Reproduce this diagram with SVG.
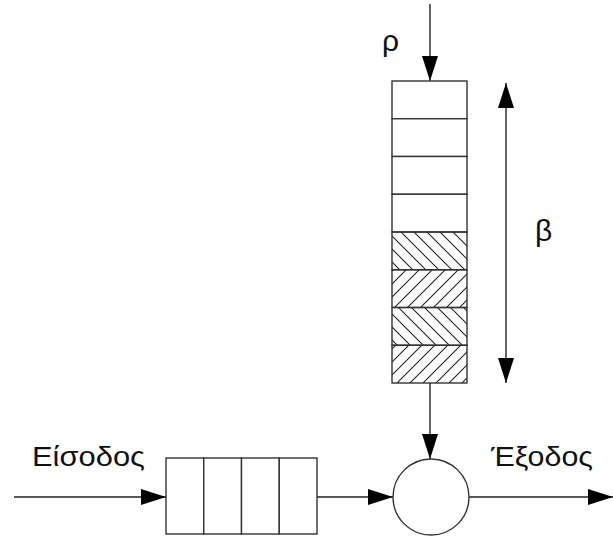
<svg xmlns="http://www.w3.org/2000/svg" width="613" height="538" viewBox="0 0 613 538">
<style>
.ln{stroke:#222;stroke-width:1.4;fill:none}
.box{stroke:#333;stroke-width:1.4;fill:#fff}
.lbl{font-family:"Liberation Sans",Arial,sans-serif;font-size:27px;fill:#111}
.sym{font-size:30px}
</style>
<defs>
<marker id="ah" viewBox="0 0 25 16" refX="25" refY="8" markerWidth="25" markerHeight="16" markerUnits="userSpaceOnUse" orient="auto-start-reverse">
<path d="M0,0 L25,8 L0,16 Z" fill="#000"/>
</marker>
<pattern id="hb" patternUnits="userSpaceOnUse" width="13" height="13">
<path d="M-2,-2 L15,15 M-15,-2 L2,15 M11,-2 L28,15" stroke="#222" stroke-width="1.1"/>
</pattern>
<pattern id="hf" patternUnits="userSpaceOnUse" width="13" height="13">
<path d="M-2,15 L15,-2 M-15,15 L2,-2 M11,15 L28,-2" stroke="#222" stroke-width="1.1"/>
</pattern>
</defs>
<g id="connectors">
<line class="ln" x1="430" y1="4" x2="430" y2="81" marker-end="url(#ah)"/>
<line class="ln" x1="506" y1="83" x2="506" y2="383" marker-start="url(#ah)" marker-end="url(#ah)"/>
<line class="ln" x1="430" y1="383" x2="430" y2="459" marker-end="url(#ah)"/>
<line class="ln" x1="14" y1="497" x2="166" y2="497" marker-end="url(#ah)"/>
<line class="ln" x1="317" y1="497" x2="393" y2="497" marker-end="url(#ah)"/>
<line class="ln" x1="469" y1="497" x2="613" y2="497" marker-end="url(#ah)"/>
</g>
<g id="buffer">
<rect class="box" x="392" y="81" width="75" height="37.75"/>
<rect class="box" x="392" y="118.75" width="75" height="37.75"/>
<rect class="box" x="392" y="156.5" width="75" height="37.75"/>
<rect class="box" x="392" y="194.25" width="75" height="37.75"/>
<rect class="box" x="392" y="232" width="75" height="37.75" style="fill:url(#hb)"/>
<rect class="box" x="392" y="269.75" width="75" height="37.75" style="fill:url(#hf)"/>
<rect class="box" x="392" y="307.5" width="75" height="37.75" style="fill:url(#hb)"/>
<rect class="box" x="392" y="345.25" width="75" height="37.75" style="fill:url(#hf)"/>
</g>
<g id="queue">
<rect class="box" x="166" y="458" width="37.75" height="76"/>
<rect class="box" x="203.75" y="458" width="37.75" height="76"/>
<rect class="box" x="241.5" y="458" width="37.75" height="76"/>
<rect class="box" x="279.25" y="458" width="37.75" height="76"/>
</g>
<g id="server">
<circle class="box" cx="431" cy="497" r="38"/>
</g>
<g id="labels">
<text class="lbl sym" x="382" y="51">ρ</text>
<text class="lbl sym" x="535" y="241">β</text>
<text class="lbl" x="32" y="466" textLength="113" lengthAdjust="spacingAndGlyphs">Είσοδος</text>
<text class="lbl" x="491" y="466" textLength="102" lengthAdjust="spacingAndGlyphs">Έξοδος</text>
</g>
</svg>
